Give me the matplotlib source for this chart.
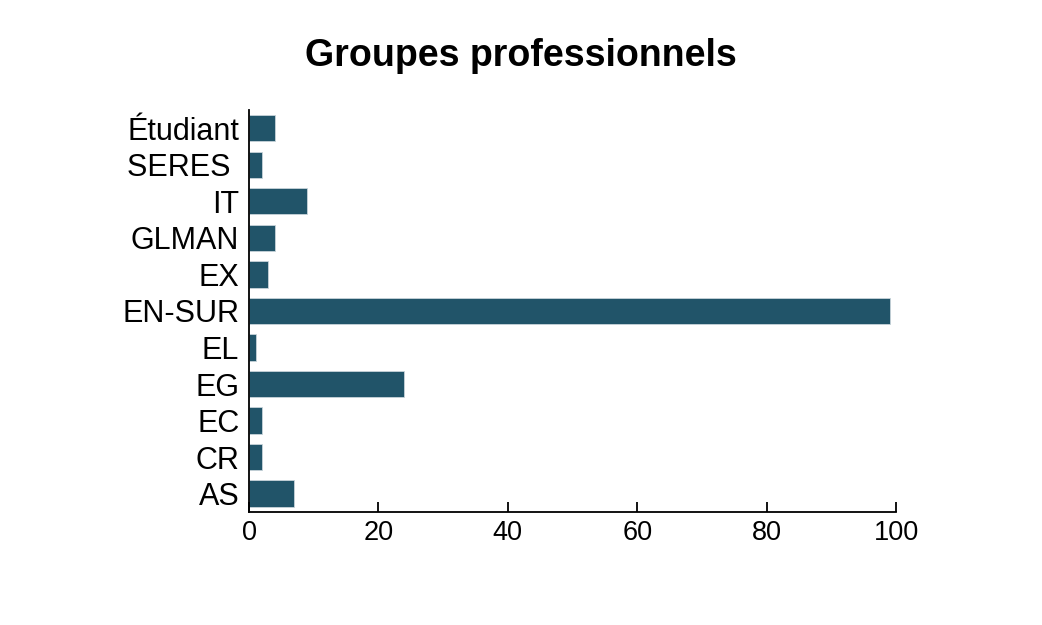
import matplotlib
matplotlib.use("Agg")
import matplotlib.pyplot as plt

# data
groupes = ["AS", "CR", "EC", "EG", "EL", "EN-SUR", "EX", "GLMAN", "IT", "SERES ", "Étudiant"]
effectifs = [7, 2, 2, 24, 1, 99, 3, 4, 9, 2, 4]
xticks = [0, 20, 40, 60, 80, 100]

plt.rcParams['font.family'] = ['Liberation Sans', 'DejaVu Sans']

fig = plt.figure(figsize=(10.42, 6.25), dpi=100)
ax = fig.add_axes([0.239, 0.181, 0.621, 0.643])

ax.barh(range(len(groupes)), effectifs, height=0.72, color="#215469",
        edgecolor="#c8d4da", linewidth=0.6)

ax.set_yticks(range(len(groupes)))
ax.set_yticklabels(groupes, fontsize=22)
ax.set_xticks(xticks)
ax.set_xticklabels([str(t) for t in xticks], fontsize=19.5)
ax.set_xlim(0, 100)
ax.set_ylim(-0.5, 10.5)

ax.spines['top'].set_visible(False)
ax.spines['right'].set_visible(False)
ax.spines['left'].set_linewidth(1.3)
ax.spines['bottom'].set_linewidth(1.3)
ax.tick_params(axis='y', length=0, pad=7)
ax.tick_params(axis='x', direction='in', length=7, width=1.3, pad=6)

fig.suptitle("Groupes professionnels", fontsize=27, fontweight='bold', x=0.5, y=0.94)

fig.savefig("out.png", dpi=100)
